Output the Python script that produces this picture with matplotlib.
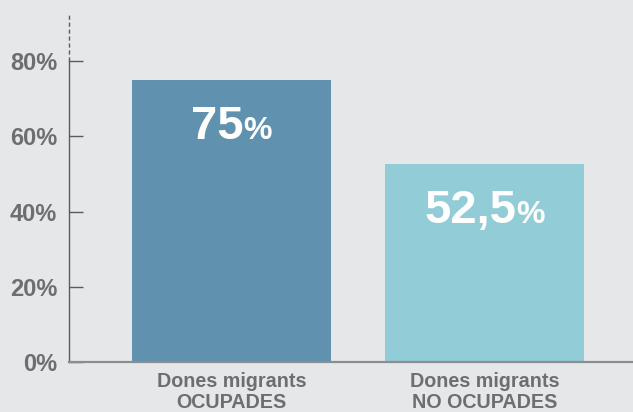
import matplotlib
matplotlib.use("Agg")
import matplotlib.pyplot as plt
from matplotlib.transforms import ScaledTranslation

# Data
categories = ["Dones migrants\nOCUPADES", "Dones migrants\nNO OCUPADES"]
values = [75, 52.5]
value_labels = ["75", "52,5"]
yticks = [0, 20, 40, 60, 80]
ytick_labels = ["0%", "20%", "40%", "60%", "80%"]

bg = "#e6e7e9"
bar_colors = ["#6092b0", "#92ccd6"]
text_gray = "#6d6e71"

fig = plt.figure(figsize=(6.33, 4.12), dpi=100, facecolor=bg)
ax = fig.add_axes([69 / 633, 50 / 412, 564 / 633, 348 / 412], facecolor=bg)

x = list(range(len(values)))
ax.bar(x, values, width=0.787, color=bar_colors, zorder=2)

ax.set_xlim(-0.642, 1.587)
ax.set_ylim(0, 92.5)

# Spines
for side in ["top", "right"]:
    ax.spines[side].set_visible(False)
ax.spines["left"].set_bounds(0, 80)
ax.spines["left"].set_color("#5a5b5e")
ax.spines["left"].set_linewidth(1.0)
ax.spines["bottom"].set_color("#8c8d90")
ax.spines["bottom"].set_linewidth(1.6)
ax.spines["bottom"].set_zorder(3)
ax.plot([-0.642, -0.642], [80, 92.5], color="#5a5b5e", lw=1.0,
        ls=(0, (3, 2)), clip_on=False)

ax.set_yticks(yticks)
ax.set_yticklabels(ytick_labels, fontsize=17, fontweight="bold",
                   color=text_gray, family=["Liberation Sans", "DejaVu Sans"])
ax.tick_params(axis="y", direction="in", length=10, width=1.0,
               color="#5a5b5e", pad=8.5)
ax.set_xticks(x)
ax.set_xticklabels(categories, fontsize=14.2, fontweight="bold",
                   color=text_gray, linespacing=1.1,
                   family=["Liberation Sans", "DejaVu Sans"])
ax.tick_params(axis="x", length=0, pad=7.5)

# Value labels: big number + smaller percent sign
fig.canvas.draw()
r = fig.canvas.get_renderer()
for xi, v, lab in zip(x, values, value_labels):
    base = v - 15.6
    t1 = ax.text(xi, base, lab, ha="left", va="baseline", color="white",
                 fontsize=34, fontweight="bold", family="Liberation Sans")
    t2 = ax.text(xi, base, "%", ha="left", va="baseline", color="white",
                 fontsize=23, fontweight="bold", family="Liberation Sans")
    w1 = t1.get_window_extent(r).width
    w2 = t2.get_window_extent(r).width
    tot = w1 + w2
    t1.set_transform(ax.transData + ScaledTranslation(-tot / 2 / fig.dpi, 0, fig.dpi_scale_trans))
    t2.set_transform(ax.transData + ScaledTranslation((w1 - tot / 2) / fig.dpi, 0, fig.dpi_scale_trans))

fig.savefig("out.png", dpi=100, facecolor=bg)
